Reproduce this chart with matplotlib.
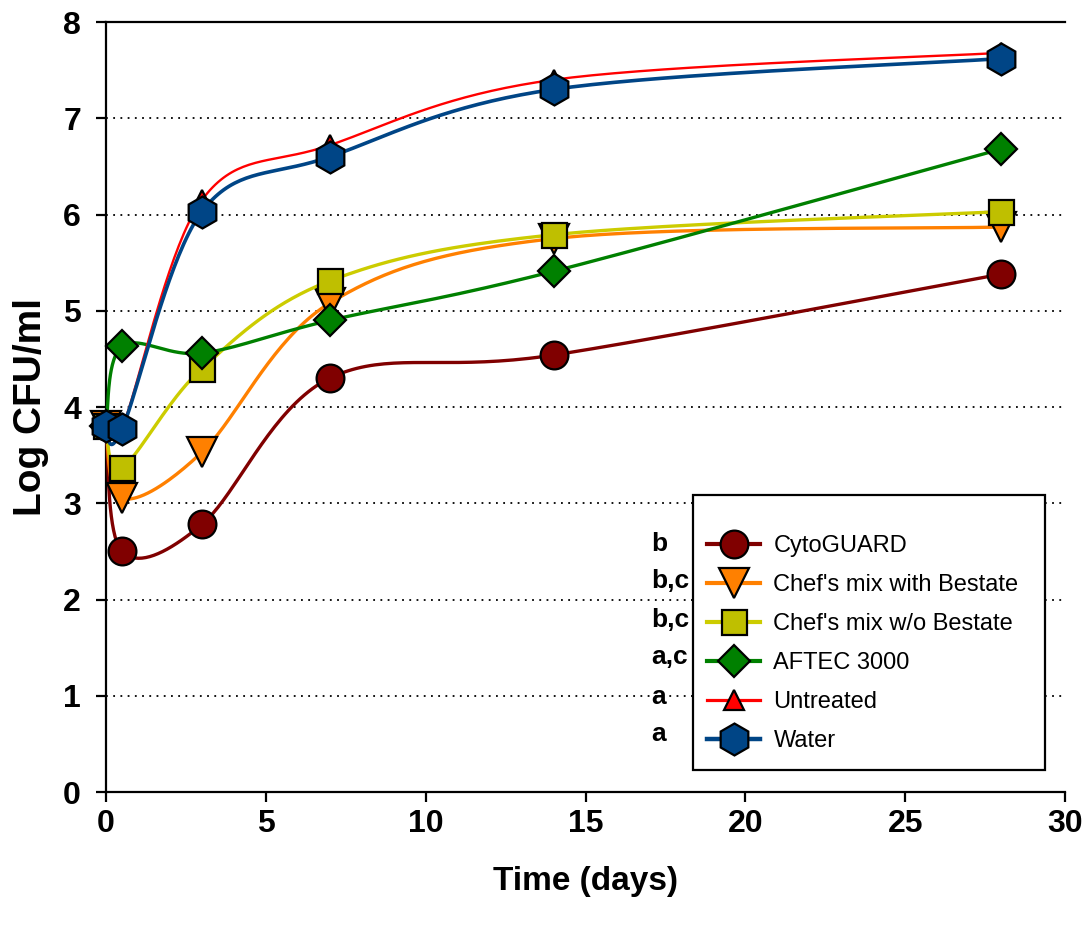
import numpy as np
import matplotlib
matplotlib.use("Agg")
import matplotlib.pyplot as plt
from matplotlib.lines import Line2D
from matplotlib.patches import Rectangle

days = [0, 0.5, 3, 7, 14, 28]

cytoguard = [3.80, 2.50, 2.78, 4.30, 4.54, 5.38]
chef_with = [3.80, 3.05, 3.53, 5.08, 5.75, 5.87]
chef_wo = [3.80, 3.37, 4.40, 5.31, 5.79, 6.03]
aftec = [3.80, 4.63, 4.56, 4.90, 5.41, 6.68]
untreated = [3.80, 3.78, 6.15, 6.72, 7.40, 7.68]
water = [3.80, 3.77, 6.03, 6.60, 7.30, 7.62]

labels = ["CytoGUARD", "Chef's mix with Bestate", "Chef's mix w/o Bestate",
          "AFTEC 3000", "Untreated", "Water"]
letters = ["b", "b,c", "b,c", "a,c", "a", "a"]

# line colour, marker face colour, marker, marker size, line width
styles = [
    ("#800000", "#800000", "o", 20, 2.4),
    ("#FF8000", "#FF8000", "v", 21, 2.4),
    ("#CCCC00", "#BFBF00", "s", 18, 2.4),
    ("#008000", "#008000", "D", 16, 2.4),
    ("#FF0000", "#FF0000", "^", 14, 1.7),
    ("#004586", "#004586", "h", 23, 2.6),
]


def smooth(x, y, n=40):
    # Excel-style smoothed line: Catmull-Rom as cubic Bezier segments
    p = np.column_stack([x, y]).astype(float)
    pts = []
    for i in range(len(p) - 1):
        p0 = p[i - 1] if i > 0 else p[i]
        p1, p2 = p[i], p[i + 1]
        p3 = p[i + 2] if i + 2 < len(p) else p[i + 1]
        b1 = p1 + (p2 - p0) / 6
        b2 = p2 - (p3 - p1) / 6
        t = np.linspace(0, 1, n)[:, None]
        seg = ((1 - t) ** 3 * p1 + 3 * (1 - t) ** 2 * t * b1
               + 3 * (1 - t) * t ** 2 * b2 + t ** 3 * p2)
        pts.append(seg if i == 0 else seg[1:])
    pts = np.vstack(pts)
    return pts[:, 0], pts[:, 1]


plt.rcParams["font.family"] = ["Liberation Sans", "DejaVu Sans"]

fig = plt.figure(figsize=(10.86, 9.33), dpi=100)
ax = fig.add_axes([0.0976, 0.1511, 0.8831, 0.8253])

series = [cytoguard, chef_with, chef_wo, aftec, untreated, water]
handles = []
for vals, lab, (lc, fc, mk, ms, lw) in zip(series, labels, styles):
    sx, sy = smooth(days, vals)
    ax.plot(sx, sy, color=lc, lw=lw, clip_on=False, zorder=3)
    ax.plot(days, vals, ls="none", marker=mk, ms=ms, mfc=fc, mec="black",
            mew=1.6, clip_on=False, zorder=3)
    handles.append(Line2D([], [], color=lc, lw=lw + 0.6, marker=mk, ms=ms,
                          mfc=fc, mec="black", mew=1.6))

ax.set_xlim(0, 30)
ax.set_ylim(0, 8)
ax.set_xticks(range(0, 31, 5))
ax.set_yticks(range(0, 9))
for y in range(1, 8):
    ax.axhline(y, color="black", ls=(0, (1, 3)), lw=1.3, zorder=1)

ax.spines["right"].set_visible(False)
for s in ["left", "bottom", "top"]:
    ax.spines[s].set_linewidth(1.6)
ax.tick_params(axis="both", direction="out", length=7, width=1.6,
               labelsize=23, pad=5)
ax.tick_params(axis="y", pad=11)
for t in ax.get_xticklabels() + ax.get_yticklabels():
    t.set_fontweight("bold")

ax.set_xlabel("Time (days)", fontsize=24, fontweight="bold", labelpad=20)
ax.set_ylabel("Log CFU/ml", fontsize=28, fontweight="bold", labelpad=10)

# legend box drawn separately so its padding can match the original
box = Rectangle((0.612, 0.0286), 0.367, 0.357, transform=ax.transAxes,
                facecolor="white", edgecolor="black", lw=1.6, zorder=4)
ax.add_patch(box)
leg = ax.legend(handles, labels, loc="upper left",
                bbox_to_anchor=(0.627, 0.334), fontsize=17,
                frameon=False, handlelength=2.25, handletextpad=0.55,
                labelspacing=0.72, borderpad=0, borderaxespad=0)
leg.set_zorder(5)

letter_y = [0.322, 0.274, 0.224, 0.175, 0.124, 0.076]
for txt, yy in zip(letters, letter_y):
    ax.text(0.569, yy, txt, transform=ax.transAxes, fontsize=19,
            fontweight="bold", ha="left", va="center", zorder=6)

fig.savefig("out.png", dpi=100)
